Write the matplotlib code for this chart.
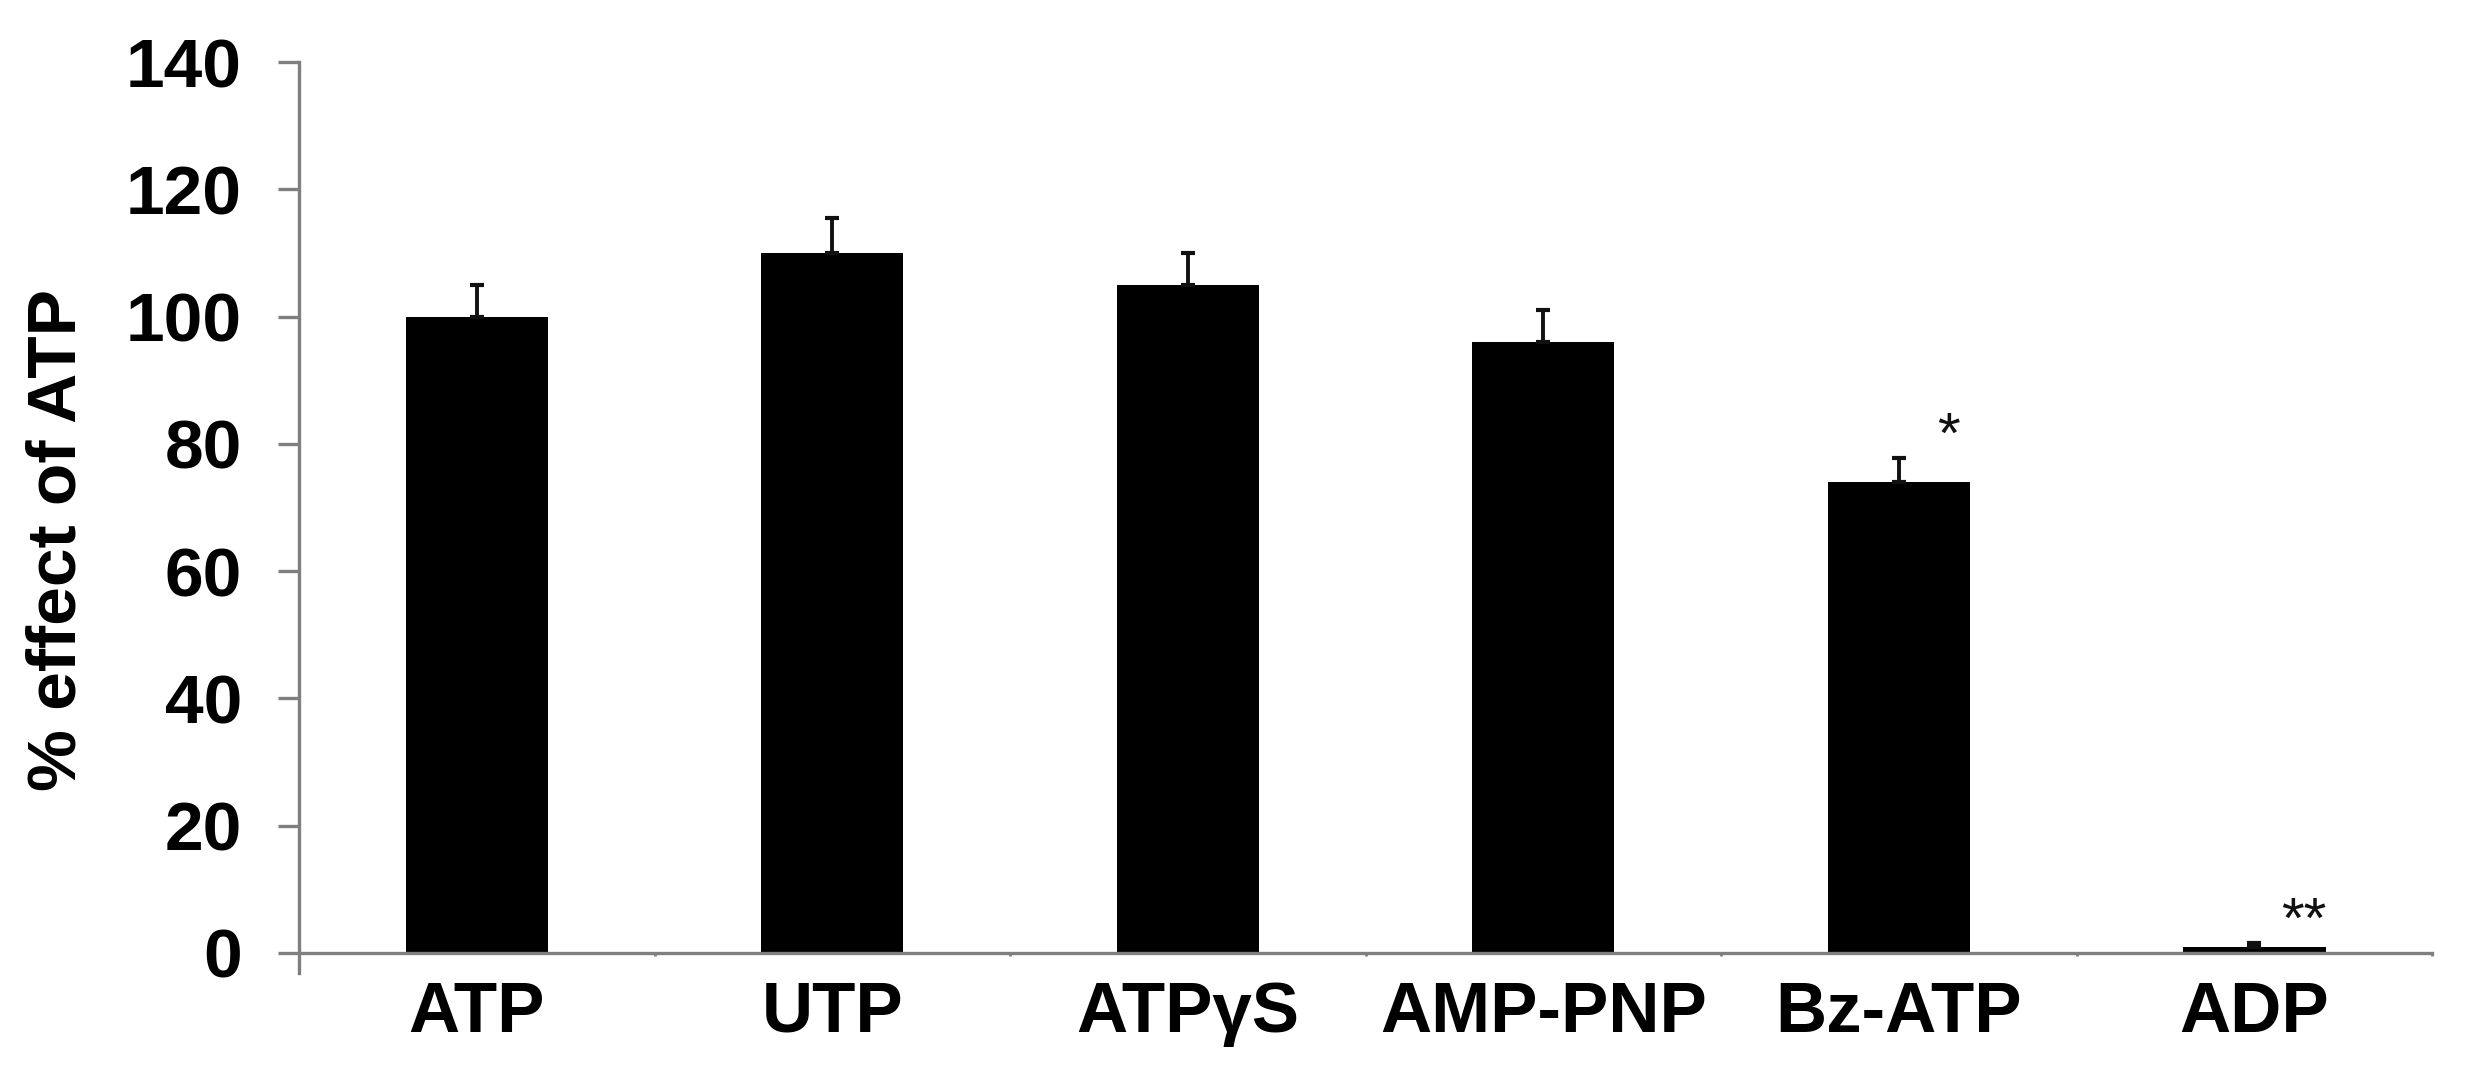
import matplotlib.pyplot as plt
import numpy as np

# values
agonists = ['ATP', 'UTP', 'ATPγS', 'AMP-PNP', 'Bz-ATP', 'ADP']
effect = [100, 110, 105, 96, 74, 1]
sem = [5, 5.5, 5, 5, 3.8, 0.5]
stars = ['', '', '', '', '*', '**']

plt.rcParams['font.family'] = ['Liberation Sans', 'DejaVu Sans']

fig = plt.figure(figsize=(24.92, 10.87), dpi=100)
ax = fig.add_axes([0.12, 1 - 973 / 1087, 0.856, 911 / 1087])

x = np.arange(len(agonists))
ax.bar(x, effect, width=0.4, color='black', zorder=2)
ax.errorbar(x, effect, yerr=[np.zeros(len(sem)), sem], fmt='none',
            ecolor='#111111', elinewidth=2.8, capsize=5, capthick=3, zorder=3)

for i, s in enumerate(stars):
    if s:
        ax.text(i + 0.14, effect[i] + sem[i] + 3.2, s, ha='center', va='center',
                fontsize=42, color='#111111')

ax.set_xlim(-0.5, len(agonists) - 0.5)
ax.set_ylim(-3.15, 140)
ax.set_yticks(range(0, 141, 20))

ax.spines['top'].set_visible(False)
ax.spines['right'].set_visible(False)
ax.spines['bottom'].set_position(('data', 0))
ax.spines['left'].set_bounds(-3.15, 140)
for sp in ('left', 'bottom'):
    ax.spines[sp].set_color('#7f7f7f')
    ax.spines[sp].set_linewidth(2.4)

ax.set_xticks(x)
ax.set_xticklabels(agonists, fontsize=51, fontweight='bold')
ax.set_xticks(np.arange(-0.5, len(agonists)), minor=True)
ax.tick_params(axis='x', which='major', length=0, pad=20)
ax.tick_params(axis='x', which='minor', length=2, width=2, color='#7f7f7f')
ax.tick_params(axis='y', length=15, width=2.4, color='#7f7f7f', pad=26,
               labelsize=50)
for lab in ax.get_yticklabels():
    lab.set_fontweight('bold')

ax.set_ylabel('% effect of ATP', fontsize=50, fontweight='bold', va='center')
ax.yaxis.set_label_coords((57 - 299) / 2133, (973 - 540) / 911)

fig.savefig('out.png', dpi=100)
